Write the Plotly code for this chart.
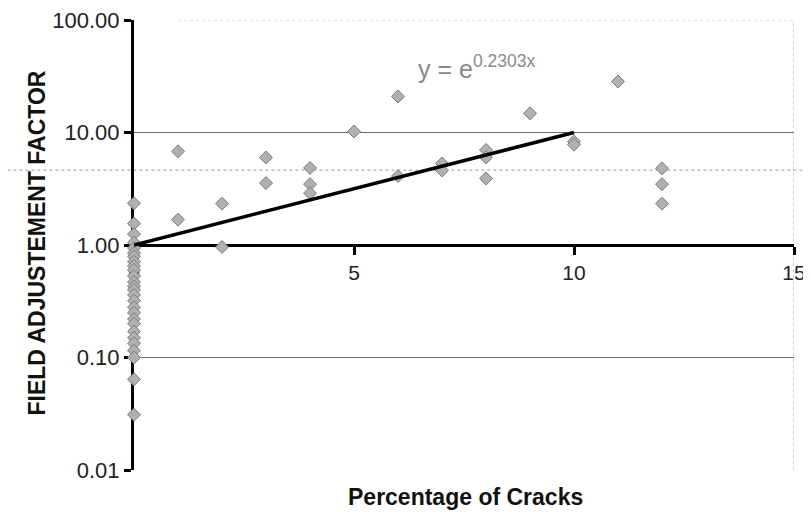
import plotly.graph_objects as go

# field adjustment factor vs percentage of cracks
crack_pct = [0, 0, 0, 0, 0, 0, 0, 0, 0, 0, 0, 0, 0, 0, 0, 0, 0, 0, 0, 0, 0, 0, 0, 0, 0, 0, 0,
             1, 1, 2, 2, 3, 3, 4, 4, 4, 5, 6, 6, 7, 7, 8, 8, 8, 9, 10, 10, 11, 12, 12, 12]
adj_factor = [2.35, 1.55, 1.25, 1.05, 0.94, 0.85, 0.79, 0.71, 0.65, 0.60, 0.53, 0.47, 0.43, 0.40,
              0.36, 0.32, 0.28, 0.25, 0.22, 0.20, 0.17, 0.15, 0.134, 0.115, 0.10, 0.064, 0.031,
              6.8, 1.68, 2.33, 0.96, 6.0, 3.55, 4.84, 3.47, 2.89, 10.2, 20.9, 4.1, 5.3, 4.6,
              7.0, 6.0, 3.9, 14.8, 8.3, 7.8, 28.4, 4.8, 3.47, 2.33]

# exponential trend y = e^(0.2303x), end points
trend_x = [0, 10]
trend_y = [1.0, 10.0]

y_ticks = [0.01, 0.1, 1, 10, 100]
x_ticks = [0, 5, 10, 15]

FONT = "Liberation Sans, Arial, sans-serif"

fig = go.Figure()

fig.add_trace(go.Scatter(
    x=crack_pct, y=adj_factor, mode="markers",
    marker=dict(symbol="diamond", size=10, color="#b0b0b0",
                line=dict(color="#7d7d7d", width=1)),
    cliponaxis=False, showlegend=False,
))
fig.add_trace(go.Scatter(
    x=trend_x, y=trend_y, mode="lines",
    line=dict(color="black", width=3.5),
    cliponaxis=False, showlegend=False,
))

# grid / reference lines
grey_solid = dict(color="#6e6e6e", width=1)
fig.add_shape(type="line", xref="x", yref="y", x0=0, x1=15, y0=10, y1=10, line=grey_solid, layer="below")
fig.add_shape(type="line", xref="x", yref="y", x0=0, x1=15, y0=0.1, y1=0.1, line=grey_solid, layer="below")
fig.add_shape(type="line", xref="paper", yref="y", x0=-0.21, x1=1.03, y0=4.63, y1=4.63,
              line=dict(color="#9a9a9a", width=1, dash="dot"), layer="below")
fig.add_shape(type="line", xref="x", yref="y", x0=1, x1=15, y0=100, y1=100,
              line=dict(color="#c8c8c8", width=1, dash="dot"), layer="below")
fig.add_shape(type="line", xref="x", yref="y", x0=15, x1=15, y0=0.01, y1=100,
              line=dict(color="#a0a0a0", width=1, dash="dot"), layer="below")

fig.add_annotation(
    x=6.4, y=1.58, xref="x", yref="y", xanchor="left", yanchor="middle",
    text="y = e<sup>0.2303x</sup>", showarrow=False,
    font=dict(family=FONT, size=25, color="#8a8a8a"),
)
fig.add_annotation(
    x=-0.17, y=0.505, xref="paper", yref="paper", textangle=-90,
    text="<b>FIELD ADJUSTEMENT FACTOR</b>", showarrow=False,
    font=dict(family=FONT, size=23, color="#111"),
)
fig.add_annotation(
    x=0.503, y=-0.093, xref="paper", yref="paper",
    text="<b>Percentage of Cracks</b>", showarrow=False,
    font=dict(family=FONT, size=23, color="#111"),
)

# the page body adds an 8px offset, so the figure is 8px smaller on each side
fig.update_layout(
    width=803, height=521,
    margin=dict(l=126, r=17, t=12, b=59, autoexpand=False),
    plot_bgcolor="white", paper_bgcolor="white",
    font=dict(family=FONT, color="#222"),
    xaxis=dict(
        range=[0, 15], tickvals=x_ticks, showgrid=False, zeroline=False,
        showline=True, linecolor="black", linewidth=3,
        ticks="outside", ticklen=8, tickwidth=3, tickcolor="black",
        anchor="free", position=0.5, layer="below traces", automargin=False,
        ticklabeloverflow="allow", tickfont=dict(size=21, color="#222"),
    ),
    yaxis=dict(
        type="log", range=[-2, 2], tickvals=y_ticks, tickformat=".2f",
        showgrid=False, zeroline=False, automargin=False,
        showline=True, linecolor="black", linewidth=3,
        ticks="outside", ticklen=7, tickwidth=3, tickcolor="black",
        layer="below traces", ticklabeloverflow="allow",
        tickfont=dict(size=22, color="#222"),
    ),
)

fig.write_html("out.html")
